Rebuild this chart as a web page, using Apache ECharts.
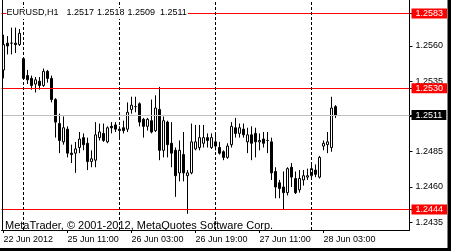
<!DOCTYPE html>
<html><head><meta charset="utf-8">
<script src="https://cdn.jsdelivr.net/npm/echarts@6/dist/echarts.min.js"></script>
<style>html,body{margin:0;padding:0;background:#fff}#c{width:451px;height:251px}</style>
</head><body><div id="c"></div>
<script>
const symbolTitle = 'EURUSD,H1';
const headerValues = ['1.2517', '1.2518', '1.2509', '1.2511'];
const daySegments = [['22 Jun', 19, 23], ['25 Jun', 0, 23], ['26 Jun', 0, 23], ['27 Jun', 0, 23], ['28 Jun', 0, 6]];
const tickLabels = ['22 Jun 2012', '25 Jun 11:00', '26 Jun 03:00', '26 Jun 19:00', '27 Jun 11:00', '28 Jun 03:00'];
const priceTicks = [1.2435, 1.2460, 1.2485, 1.2510, 1.2535, 1.2560];
const redLevels = [1.2583, 1.2530, 1.2444];
const bidPrice = 1.2511;
const copyright = 'MetaTrader, \u00a9 2001-2012, MetaQuotes Software Corp.';

const open = [
1.2543,1.2562,1.2562,1.2562,1.2561,
1.2551,1.2539,1.2537,1.2533,1.2535,
1.2532,1.2542,1.2537,1.2522,1.2505,
1.2492,1.2501,1.2484,1.2484,1.2488,
1.2495,1.2491,1.2478,1.2479,1.2495,
1.2498,1.2492,1.2503,1.2504,1.2500,
1.2502,1.2501,1.2515,1.2517,1.2519,
1.2508,1.2503,1.2507,1.2500,1.2515,
1.2486,1.2506,1.2491,1.2486,1.2470,
1.2483,1.2468,1.2470,1.2487,1.2488,
1.2491,1.2495,1.2488,1.2492,1.2488,
1.2485,1.2481,1.2490,1.2502,1.2498,
1.2501,1.2492,1.2497,1.2498,1.2492,
1.2494,1.2493,1.2492,1.2471,1.2463,
1.2460,1.2456,1.2474,1.2466,1.2458,
1.2465,1.2467,1.2468,1.2472,1.2467,
1.2489,1.2490,1.2488,1.2517];
const close = [
1.2561,1.2560,1.2562,1.2561,1.2569,
1.2537,1.2536,1.2532,1.2536,1.2532,
1.2542,1.2537,1.2522,1.2506,1.2493,
1.2502,1.2484,1.2483,1.2487,1.2494,
1.2490,1.2478,1.2480,1.2497,1.2499,
1.2493,1.2502,1.2502,1.2501,1.2501,
1.2500,1.2513,1.2518,1.2517,1.2506,
1.2503,1.2508,1.2499,1.2516,1.2486,
1.2507,1.2490,1.2484,1.2468,1.2486,
1.2470,1.2470,1.2492,1.2492,1.2495,
1.2495,1.2493,1.2495,1.2489,1.2484,
1.2481,1.2489,1.2503,1.2498,1.2502,
1.2497,1.2497,1.2491,1.2492,1.2493,
1.2491,1.2493,1.2470,1.2460,1.2459,
1.2456,1.2473,1.2467,1.2456,1.2466,
1.2468,1.2468,1.2473,1.2469,1.2481,
1.2491,1.2492,1.2516,1.2511];
const high = [
1.2568,1.2567,1.2573,1.2573,1.2572,
1.2552,1.2543,1.2539,1.2538,1.2538,
1.2544,1.2543,1.2539,1.2523,1.2512,
1.2510,1.2503,1.2490,1.2492,1.2499,
1.2498,1.2495,1.2486,1.2506,1.2505,
1.2505,1.2503,1.2506,1.2506,1.2503,
1.2507,1.2520,1.2524,1.2524,1.2520,
1.2509,1.2509,1.2522,1.2525,1.2531,
1.2510,1.2507,1.2506,1.2488,1.2493,
1.2499,1.2472,1.2505,1.2504,1.2504,
1.2504,1.2498,1.2498,1.2498,1.2492,
1.2486,1.2491,1.2506,1.2509,1.2505,
1.2505,1.2502,1.2503,1.2502,1.2498,
1.2499,1.2499,1.2495,1.2474,1.2465,
1.2471,1.2474,1.2477,1.2471,1.2472,
1.2472,1.2473,1.2476,1.2476,1.2482,
1.2493,1.2499,1.2524,1.2518];
const low = [
1.2537,1.2554,1.2554,1.2555,1.2560,
1.2536,1.2533,1.2529,1.2527,1.2529,
1.2531,1.2534,1.2520,1.2495,1.2484,
1.2490,1.2481,1.2477,1.2470,1.2484,
1.2486,1.2472,1.2474,1.2474,1.2493,
1.2492,1.2491,1.2498,1.2499,1.2495,
1.2498,1.2499,1.2512,1.2513,1.2503,
1.2495,1.2500,1.2498,1.2499,1.2479,
1.2481,1.2481,1.2474,1.2453,1.2464,
1.2464,1.2441,1.2469,1.2486,1.2486,
1.2488,1.2488,1.2487,1.2486,1.2483,
1.2479,1.2480,1.2488,1.2495,1.2495,
1.2495,1.2484,1.2479,1.2481,1.2486,
1.2488,1.2484,1.2465,1.2452,1.2452,
1.2444,1.2454,1.2460,1.2455,1.2456,
1.2461,1.2465,1.2467,1.2467,1.2466,
1.2486,1.2484,1.2485,1.2509];

// build categories
const categories = [];
daySegments.forEach(([d, a, b]) => { for (let h = a; h <= b; h++) categories.push(d + ' ' + String(h).padStart(2, '0') + ':00'); });
const LABEL_EVERY = 16;
const separators = categories.map((c, i) => c.endsWith(' 00:00') ? i : -1).filter(i => i >= 0);
const candles = open.map((o, i) => [o, close[i], low[i], high[i]]);

const FONT = '"Liberation Sans", Arial, sans-serif';
const chart = echarts.init(document.getElementById('c'), null, { renderer: 'canvas' });

const hLines = redLevels.map(v => ({
  yAxis: v,
  lineStyle: { color: '#ff0000', type: 'solid', width: 1 },
  label: { show: true, position: 'end', distance: 2, color: '#fff', backgroundColor: '#ff0000',
    padding: [1, 4, 0, 4], fontSize: 9, fontFamily: FONT, lineHeight: 9,
    formatter: p => Number(p.value).toFixed(4) }
}));
hLines.push({
  yAxis: bidPrice,
  lineStyle: { color: '#c0c0c0', type: 'solid', width: 1 },
  label: { show: true, position: 'end', distance: 2, color: '#fff', backgroundColor: '#000',
    padding: [1, 4, 0, 4], fontSize: 9, fontFamily: FONT, lineHeight: 9,
    formatter: p => Number(p.value).toFixed(4) }
});
const vLines = separators.map(i => ({
  xAxis: i,
  lineStyle: { color: '#000', type: [3, 2], width: 1 },
  label: { show: false }
}));

chart.setOption({
  animation: false,
  backgroundColor: '#fff',
  grid: { left: 1.5, right: 41.5, top: 0, bottom: 21, containLabel: false },
  xAxis: {
    type: 'category', data: categories, max: 101, boundaryGap: true,
    axisLine: { show: true, lineStyle: { color: '#000', width: 1 } },
    axisTick: { show: true, alignWithLabel: true, length: 3, lineStyle: { color: '#000' },
      interval: (i) => i % LABEL_EVERY === 0 && i < categories.length },
    axisLabel: { show: true, interval: (i) => i % LABEL_EVERY === 0 && i < categories.length,
      formatter: (v, i) => (i % LABEL_EVERY === 0 && tickLabels[i / LABEL_EVERY]) || '',
      align: 'left', fontSize: 9, fontFamily: FONT, color: '#000', margin: 5 },
    splitLine: { show: false }
  },
  yAxis: {
    type: 'value', position: 'right', scale: true,
    min: 1.24295, max: 1.25926,
    axisLine: { show: true, lineStyle: { color: '#000', width: 1 } },
    axisTick: { show: true, length: 3, lineStyle: { color: '#000' },
      customValues: priceTicks.concat(redLevels, [bidPrice]) },
    axisLabel: { show: true, customValues: priceTicks, formatter: v => v.toFixed(4),
      fontSize: 9, fontFamily: FONT, color: '#000', margin: 6 },
    splitLine: { show: false }
  },
  series: [
    {
      type: 'line', data: [], z: 1, silent: true,
      markLine: { silent: true, symbol: 'none', animation: false, precision: 4, data: hLines.concat(vLines) }
    },
    {
      type: 'candlestick', z: 3, data: candles, barWidth: 3,
      itemStyle: { color: '#fff', color0: '#000', borderColor: '#000', borderColor0: '#000',
        borderColorDoji: '#000', borderWidth: 1 }
    }
  ],
  graphic: [
    { type: 'line', shape: { x1: 2.5, y1: 0, x2: 2.5, y2: 230 }, style: { stroke: '#000', lineWidth: 1 }, z: 10 },
    { type: 'rect', shape: { x: 6.5, y: 8, width: 181.5, height: 11 }, style: { fill: '#fff' }, z: 20 },
    { type: 'text', x: 6.5, y: 12.5, style: { text: symbolTitle, font: '9px ' + FONT, fill: '#000', verticalAlign: 'middle' }, z: 21 },
    { type: 'text', x: 66.5, y: 12.5, style: { text: headerValues[0], font: '9px ' + FONT, fill: '#000', verticalAlign: 'middle' }, z: 21 },
    { type: 'text', x: 97, y: 12.5, style: { text: headerValues[1], font: '9px ' + FONT, fill: '#000', verticalAlign: 'middle' }, z: 21 },
    { type: 'text', x: 127.5, y: 12.5, style: { text: headerValues[2], font: '9px ' + FONT, fill: '#000', verticalAlign: 'middle' }, z: 21 },
    { type: 'text', x: 160, y: 12.5, style: { text: headerValues[3], font: '9px ' + FONT, fill: '#000', verticalAlign: 'middle' }, z: 21 },
    { type: 'text', x: 5, y: 225.5, style: { text: copyright, font: '11px ' + FONT, fill: '#000', verticalAlign: 'middle' }, z: 21 },
    { type: 'rect', shape: { x: 447.5, y: 0, width: 4, height: 251 }, style: { fill: '#000' }, z: 30 },
    { type: 'rect', shape: { x: 0, y: 248, width: 451, height: 3 }, style: { fill: '#000' }, z: 30 }
  ]
});
</script></body></html>
